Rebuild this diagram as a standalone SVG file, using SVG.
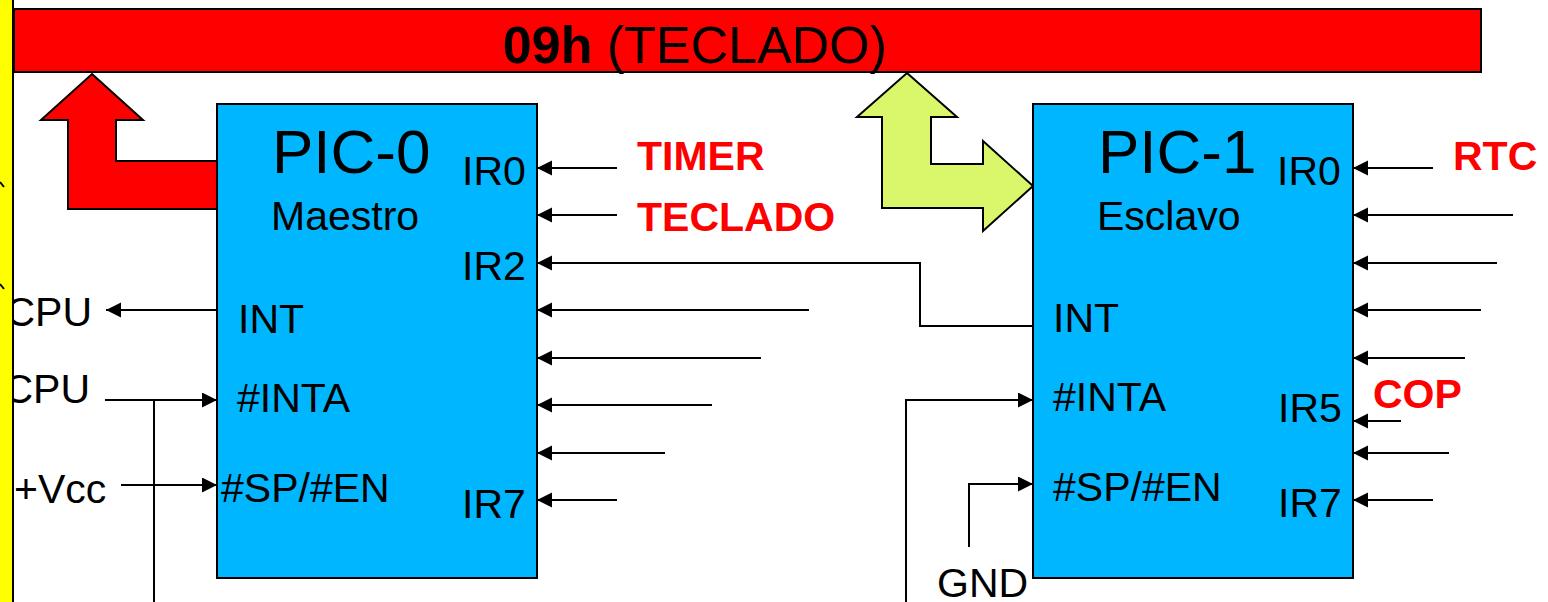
<svg xmlns="http://www.w3.org/2000/svg" width="1548" height="602" viewBox="0 0 1548 602">
<style>
text{font-family:"Liberation Sans",Arial,sans-serif;fill:#000}
.pin{font-size:41px}
.title{font-size:62px}
.sub{font-size:41px}
.red{font-size:41px;font-weight:bold;fill:#FF0000}
.box{fill:#00B6FF;stroke:#000;stroke-width:2}
.wire{fill:none;stroke:#000;stroke-width:2}
.arr{marker-end:url(#ah)}
</style>
<defs>
<marker id="ah" markerUnits="userSpaceOnUse" markerWidth="16" markerHeight="16" refX="15" refY="7.5" orient="auto">
<path d="M0,0 L15,7.5 L0,15 z" fill="#000"/>
</marker>
</defs>
<rect x="0" y="0" width="1548" height="602" fill="#fff"/>

<g id="bus">
<rect x="14" y="9" width="1467" height="63" fill="#FF0000" stroke="#000" stroke-width="2"/>
<text x="695" y="63" text-anchor="middle" style="font-size:52px"><tspan font-weight="bold">09h</tspan> (TECLADO)</text>
</g>

<g id="arrow-red">
<polygon points="92,74 143,120 116,120 116,161 217,161 217,209 68,209 68,120 41,120" fill="#FF0000" stroke="#000" stroke-width="2"/>
</g>
<g id="arrow-green">
<polygon points="907,73 957,117 931,117 931,164 983,164 983,141 1033,186 983,231 983,208 882,208 882,117 857,117" fill="#DAF76B" stroke="#000" stroke-width="2"/>
</g>

<g id="connectors">
<path class="wire arr" d="M617,168 L537,168"/>
<path class="wire arr" d="M617,215 L537,215"/>
<path class="wire arr" d="M1033,326 L920,326 L920,263 L537,263"/>
<path class="wire arr" d="M809,310 L537,310"/>
<path class="wire arr" d="M761,358 L537,358"/>
<path class="wire arr" d="M712,405 L537,405"/>
<path class="wire arr" d="M665,453 L537,453"/>
<path class="wire arr" d="M617,500 L537,500"/>
<path class="wire arr" d="M217,310 L106,310"/>
<path class="wire arr" d="M105,400 L217,400"/>
<path class="wire" d="M154,400 L154,604"/>
<path class="wire arr" d="M121,485 L217,485"/>
<path class="wire arr" d="M906,604 L906,400 L1033,400"/>
<path class="wire arr" d="M969,547 L969,484 L1033,484"/>
<path class="wire arr" d="M1433,168 L1353,168"/>
<path class="wire arr" d="M1513,215 L1353,215"/>
<path class="wire arr" d="M1497,263 L1353,263"/>
<path class="wire arr" d="M1481,310 L1353,310"/>
<path class="wire arr" d="M1465,358 L1353,358"/>
<path class="wire arr" d="M1401,421 L1353,421"/>
<path class="wire arr" d="M1449,453 L1353,453"/>
<path class="wire arr" d="M1433,500 L1353,500"/>
</g>

<g id="pic0">
<rect class="box" x="217" y="104" width="320" height="474"/>
<text class="title" x="272" y="173">PIC-0</text>
<text class="sub" x="271" y="230">Maestro</text>
<text class="pin" x="462" y="185">IR0</text>
<text class="pin" x="462" y="280">IR2</text>
<text class="pin" x="462" y="518">IR7</text>
<text class="pin" x="238" y="333">INT</text>
<text class="pin" x="237" y="412">#INTA</text>
<text class="pin" x="221" y="502">#SP/#EN</text>
</g>

<g id="pic1">
<rect class="box" x="1033" y="104" width="320" height="474"/>
<text class="title" x="1098" y="173">PIC-1</text>
<text class="sub" x="1097" y="230">Esclavo</text>
<text class="pin" x="1277" y="185">IR0</text>
<text class="pin" x="1278" y="422">IR5</text>
<text class="pin" x="1278" y="517">IR7</text>
<text class="pin" x="1053" y="332">INT</text>
<text class="pin" x="1053" y="411">#INTA</text>
<text class="pin" x="1053" y="501">#SP/#EN</text>
</g>

<g id="labels">
<text class="red" x="637" y="170">TIMER</text>
<text class="red" x="637" y="231">TECLADO</text>
<text class="red" x="1453" y="170">RTC</text>
<text class="red" x="1373" y="408">COP</text>
<text class="pin" x="92" y="326" text-anchor="end">CPU</text>
<text class="pin" x="90" y="403" text-anchor="end">CPU</text>
<text class="pin" x="14" y="503">+Vcc</text>
<text class="pin" x="937" y="597">GND</text>
</g>

<g id="side">
<rect x="-2" y="-2" width="15" height="606" fill="#FFFF00" stroke="#000" stroke-width="2"/>
<path d="M0,182 L4,187 M0,284 L4,289" stroke="#000" stroke-width="2" fill="none"/>
</g>
</svg>
